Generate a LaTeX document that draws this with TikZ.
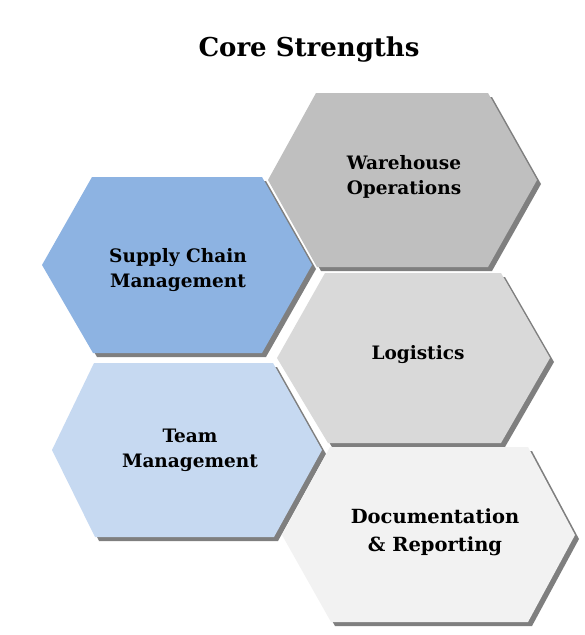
\documentclass[tikz,border=0pt]{standalone}
\usepackage{fontspec}
\setmainfont{DejaVu Serif}
\usetikzlibrary{shadows}
\definecolor{supplyblue}{HTML}{8DB3E2}
\definecolor{teamblue}{HTML}{C6D9F1}
\definecolor{housegray}{HTML}{BFBFBF}
\definecolor{logigray}{HTML}{D9D9D9}
\definecolor{docgray}{HTML}{F2F2F2}
\definecolor{hexshadow}{HTML}{7F7F7F}
\tikzset{
    hexcell/.style={drop shadow={shadow xshift=4pt, shadow yshift=-4pt, fill=hexshadow, opacity=1}},
    hexlabel/.style={align=center, font=\fontsize{18.5}{25}\selectfont\bfseries}
}
\begin{document}
\begin{tikzpicture}[x=1pt,y=-1pt]
            \useasboundingbox (0,0) rectangle (585,635);
            \node[font=\fontsize{26}{30}\selectfont\bfseries] (title) at (309,50) {Core Strengths};

            % hexagons
            \fill[hexcell, fill=housegray, shift={(402,180)}]
                (-134,0) -- (-86,-87) -- (86,-87) -- (135,0) -- (86,87) -- (-85,87) -- cycle;
            \fill[hexcell, fill=supplyblue, shift={(178,265)}]
                (-136,0) -- (-86,-88) -- (84,-88) -- (134,0) -- (84,88) -- (-85,88) -- cycle;
            \fill[hexcell, fill=logigray, shift={(414,358)}]
                (-137,0) -- (-89,-85) -- (87,-85) -- (136,0) -- (87,85) -- (-86,85) -- cycle;
            \fill[hexcell, fill=teamblue, shift={(187,450)}]
                (-135,0) -- (-93,-87) -- (86,-87) -- (135,0) -- (87,87) -- (-92,87) -- cycle;
            \fill[hexcell, fill=docgray, shift={(428,535)}]
                (-146,0) -- (-98,-88) -- (100,-88) -- (147,0) -- (100,87) -- (-97,87) -- cycle;

            % labels
            \node[hexlabel] (house) at (404,177) {Warehouse\\Operations};
            \node[hexlabel] (supply) at (178,270) {Supply Chain\\Management};
            \node[hexlabel] (logi) at (418,355) {Logistics};
            \node[hexlabel] (team) at (190,450) {Team\\Management};
            \node[hexlabel, font=\fontsize{19.5}{28}\selectfont\bfseries] (docs) at (435,532) {Documentation\\\& Reporting};
        \end{tikzpicture}
\end{document}
